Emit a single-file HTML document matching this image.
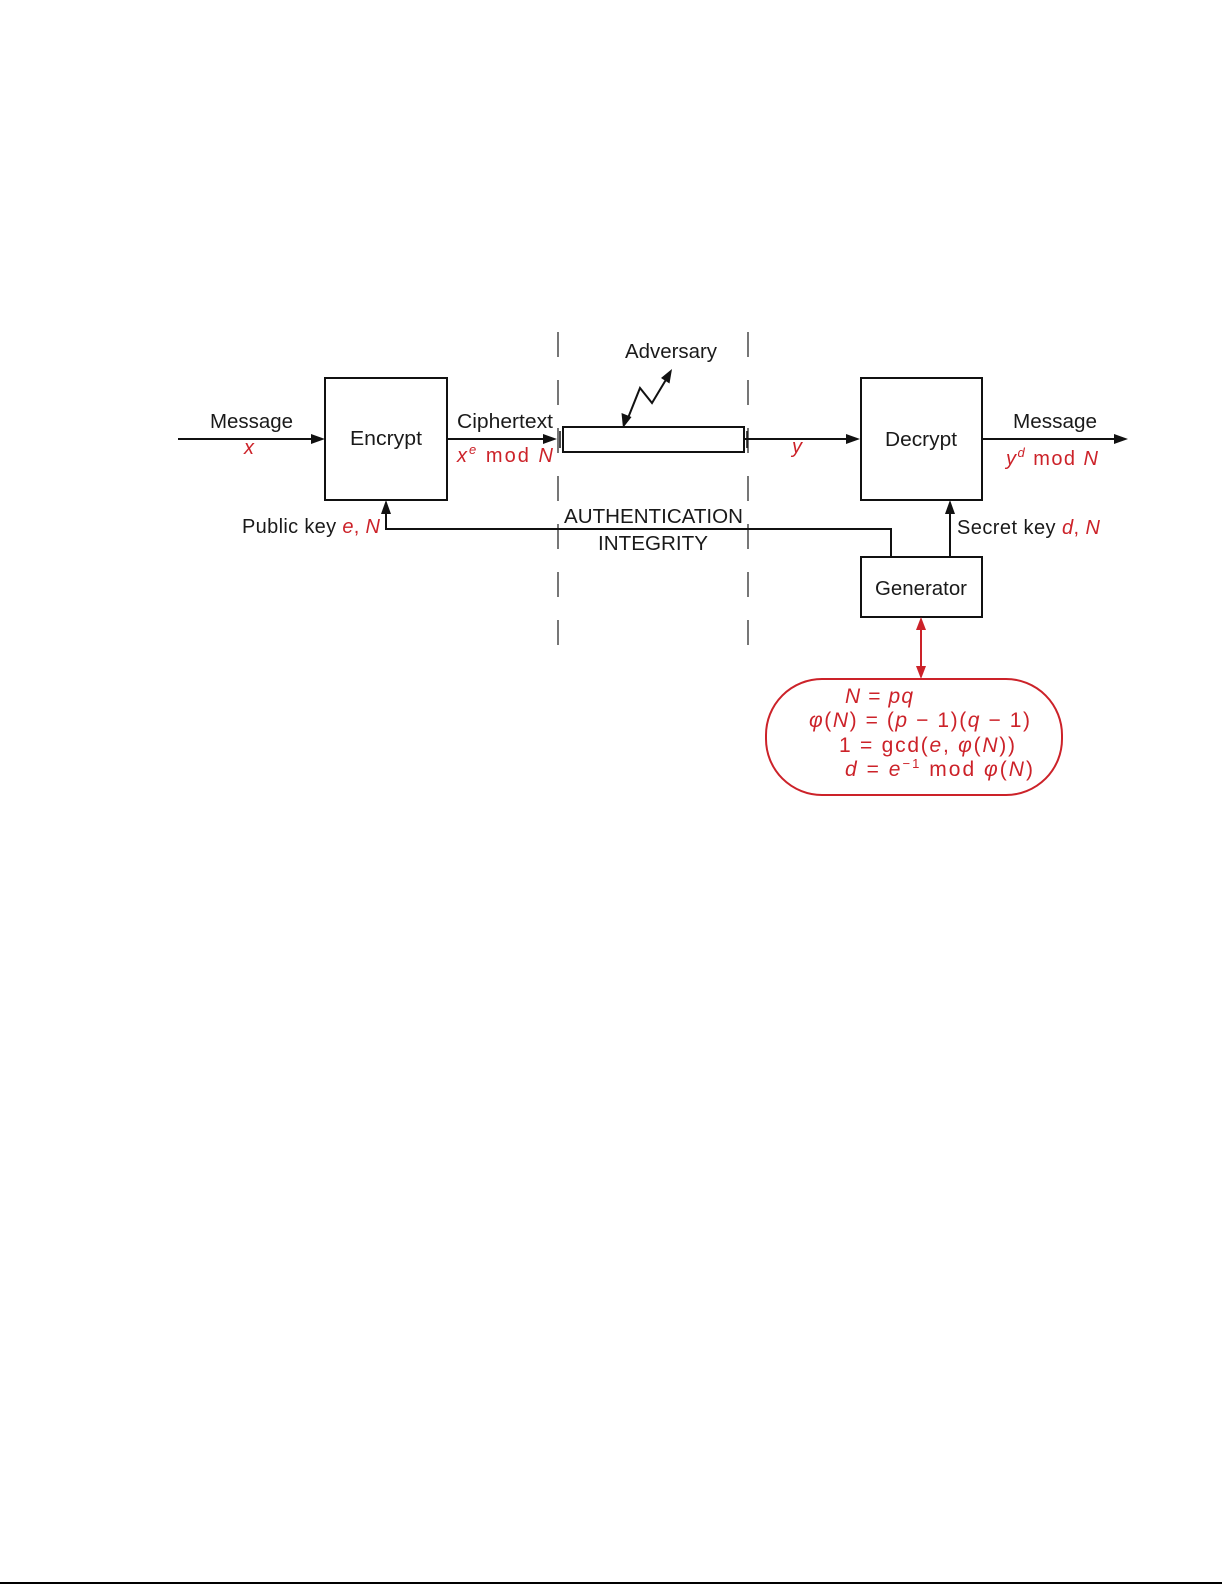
<!DOCTYPE html>
<html>
<head>
<meta charset="utf-8">
<style>
  html,body{margin:0;padding:0;background:#fff;}
  svg{display:block;}
  text{font-family:"Liberation Sans", Arial, sans-serif;}
</style>
</head>
<body>
<svg width="1225" height="1585" viewBox="0 0 1225 1585" xmlns="http://www.w3.org/2000/svg">
  <rect x="0" y="0" width="1225" height="1585" fill="#ffffff"/>

  <!-- dashed boundary lines -->
  <g stroke="#555" stroke-width="1.6" stroke-dasharray="25 23">
    <line x1="558" y1="332" x2="558" y2="646"/>
    <line x1="748" y1="332" x2="748" y2="646"/>
  </g>

  <g stroke="#111" stroke-width="2" fill="none">
    <!-- Encrypt box -->
    <rect x="325" y="378" width="122" height="122"/>
    <!-- Decrypt box -->
    <rect x="861" y="378" width="121" height="122"/>
    <!-- Generator box -->
    <rect x="861" y="557" width="121" height="60"/>
    <!-- channel rect -->
    <rect x="563" y="427" width="181" height="25"/>
    <!-- input message line -->
    <line x1="178" y1="439" x2="314" y2="439"/>
    <!-- ciphertext line -->
    <line x1="447" y1="439" x2="546" y2="439"/>
    <!-- ticks at channel ends -->
    <line x1="560" y1="431" x2="560" y2="448" stroke-width="1.5"/>
    <line x1="747" y1="431" x2="747" y2="448" stroke-width="1.5"/>
    <!-- y line -->
    <line x1="744" y1="439" x2="849" y2="439"/>
    <!-- output line -->
    <line x1="982" y1="439" x2="1116" y2="439"/>
    <!-- public key path -->
    <polyline points="891,557 891,529 386,529 386,512"/>
    <!-- secret key line -->
    <line x1="950" y1="557" x2="950" y2="512"/>
    <!-- adversary zigzag -->
    <polyline points="628,418 640,388 652,403 667,378"/>
  </g>

  <!-- arrowheads black -->
  <g fill="#111">
    <polygon points="325,439 311,434 311,444"/>
    <polygon points="557,439 543,434 543,444"/>
    <polygon points="860,439 846,434 846,444"/>
    <polygon points="1128,439 1114,434 1114,444"/>
    <polygon points="386,500 381,514 391,514"/>
    <polygon points="950,500 945,514 955,514"/>
    <!-- zigzag heads -->
    <polygon points="623,428 621.5,413 631.5,417"/>
    <polygon points="672,369 669.5,383.5 661,378"/>
  </g>

  <!-- red double arrow -->
  <g stroke="#cc2229" stroke-width="2" fill="none">
    <line x1="921" y1="628" x2="921" y2="668"/>
  </g>
  <g fill="#cc2229">
    <polygon points="921,617 916,630 926,630"/>
    <polygon points="921,679 916,666 926,666"/>
  </g>

  <!-- stadium -->
  <rect x="766" y="679" width="296" height="116" rx="56" ry="56" fill="none" stroke="#cc2229" stroke-width="2"/>

  <!-- labels black -->
  <g fill="#1a1a1a" font-size="20">
    <text x="210" y="428" textLength="83" lengthAdjust="spacingAndGlyphs">Message</text>
    <text x="350" y="445" textLength="72" lengthAdjust="spacingAndGlyphs">Encrypt</text>
    <text x="457" y="428" textLength="96" lengthAdjust="spacingAndGlyphs">Ciphertext</text>
    <text x="625" y="358" textLength="92" lengthAdjust="spacingAndGlyphs">Adversary</text>
    <text x="564" y="523" textLength="179" lengthAdjust="spacingAndGlyphs">AUTHENTICATION</text>
    <text x="598" y="550" textLength="110" lengthAdjust="spacingAndGlyphs">INTEGRITY</text>
    <text x="885" y="446" textLength="72" lengthAdjust="spacingAndGlyphs">Decrypt</text>
    <text x="1013" y="428" textLength="84" lengthAdjust="spacingAndGlyphs">Message</text>
    <text x="875" y="595" textLength="92" lengthAdjust="spacingAndGlyphs">Generator</text>
    <text x="242" y="533" textLength="138" lengthAdjust="spacing">Public key <tspan fill="#cc2229" font-style="italic">e</tspan><tspan fill="#cc2229">, </tspan><tspan fill="#cc2229" font-style="italic">N</tspan></text>
    <text x="957" y="534" textLength="143" lengthAdjust="spacing">Secret key <tspan fill="#cc2229" font-style="italic">d</tspan><tspan fill="#cc2229">, </tspan><tspan fill="#cc2229" font-style="italic">N</tspan></text>
  </g>

  <!-- red labels -->
  <g fill="#cc2229" font-size="20">
    <text x="249" y="454" font-style="italic" text-anchor="middle">x</text>
    <text x="797" y="453" font-style="italic" text-anchor="middle">y</text>
    <text x="457" y="462" textLength="96" lengthAdjust="spacing"><tspan font-style="italic">x</tspan><tspan font-style="italic" font-size="13" dy="-8">e</tspan><tspan dy="8"> mod </tspan><tspan font-style="italic">N</tspan></text>
    <text x="1006" y="465" textLength="92" lengthAdjust="spacing"><tspan font-style="italic">y</tspan><tspan font-style="italic" font-size="13" dy="-8">d</tspan><tspan dy="8"> mod </tspan><tspan font-style="italic">N</tspan></text>
  </g>

  <!-- equations -->
  <g fill="#cc2229" font-size="21">
    <text x="845" y="703" textLength="68" lengthAdjust="spacing"><tspan font-style="italic">N</tspan> = <tspan font-style="italic">pq</tspan></text>
    <text x="809" y="727" textLength="221" lengthAdjust="spacing"><tspan font-style="italic">φ</tspan>(<tspan font-style="italic">N</tspan>) = (<tspan font-style="italic">p</tspan> − 1)(<tspan font-style="italic">q</tspan> − 1)</text>
    <text x="839" y="752" textLength="176" lengthAdjust="spacing">1 = gcd(<tspan font-style="italic">e</tspan>, <tspan font-style="italic">φ</tspan>(<tspan font-style="italic">N</tspan>))</text>
    <text x="845" y="776" textLength="188" lengthAdjust="spacing"><tspan font-style="italic">d</tspan> = <tspan font-style="italic">e</tspan><tspan font-size="13" dy="-8">−1</tspan><tspan dy="8"> mod </tspan><tspan font-style="italic">φ</tspan>(<tspan font-style="italic">N</tspan>)</text>
  </g>

  <!-- bottom rule -->
  <line x1="0" y1="1583" x2="1222" y2="1583" stroke="#000" stroke-width="2"/>
</svg>
</body>
</html>
